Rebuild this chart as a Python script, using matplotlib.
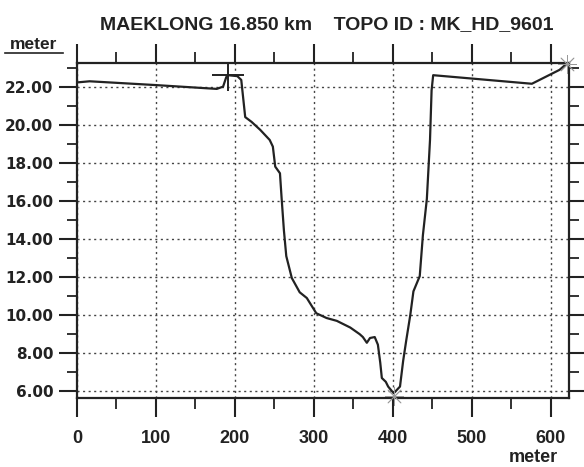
import matplotlib
matplotlib.use("Agg")
import matplotlib.pyplot as plt
from matplotlib.ticker import MultipleLocator, FormatStrFormatter
from matplotlib.lines import Line2D

plt.rcParams["font.family"] = ["Liberation Sans", "DejaVu Sans"]
plt.rcParams["font.weight"] = "bold"

# ---- cross-section profile (distance m, elevation m) ----
dist = [0, 16, 100, 177, 185, 189, 191, 203, 208, 213, 221, 232, 244, 248,
        251, 257, 259, 262, 265, 272, 282, 291, 303, 316, 329, 346, 358, 362,
        367, 371, 377, 381, 384, 386, 391, 394, 401, 409, 413, 417, 422, 426,
        432, 434, 438, 443, 447, 449, 451, 576, 611, 620]
elev = [22.22, 22.28, 22.08, 21.88, 22.0, 22.5, 22.6, 22.55, 22.35, 20.4,
        20.15, 19.73, 19.2, 18.85, 17.8, 17.45, 16.2, 14.45, 13.1, 11.95,
        11.2, 10.9, 10.1, 9.85, 9.7, 9.35, 9.0, 8.85, 8.55, 8.8, 8.85, 8.45,
        7.5, 6.7, 6.5, 6.25, 5.9, 6.25, 7.6, 8.7, 10.0, 11.25, 11.85, 12.05,
        14.2, 16.1, 19.2, 21.8, 22.6, 22.15, 22.88, 23.2]

# bank / thalweg markers
bank_x = [191]
bank_y = [22.6]
star_x = [401, 620]
star_y = [5.75, 23.2]

title = "MAEKLONG 16.850 km    TOPO ID : MK_HD_9601"

fig = plt.figure(figsize=(5.84, 4.67), dpi=100)
ax = fig.add_axes([77/584, 1-398/467, (569-77)/584, (398-63)/467])

ax.plot(dist, elev, color="#222222", lw=1.6, zorder=3)
ax.scatter(bank_x, bank_y, marker="+", s=520, color="#222222", lw=1.4, zorder=4)
ax.scatter(star_x, star_y, marker=(8, 2, 0), s=170, color="#999999", lw=0.6,
           zorder=4, clip_on=False)

ax.set_xlim(0, 623)
ax.set_ylim(5.65, 23.24)

ax.xaxis.set_major_locator(MultipleLocator(100))
ax.xaxis.set_minor_locator(MultipleLocator(50))
ax.yaxis.set_major_locator(MultipleLocator(2))
ax.yaxis.set_minor_locator(MultipleLocator(1))
ax.yaxis.set_major_formatter(FormatStrFormatter("%.2f"))

ax.grid(True, which="major", ls=(0, (1.5, 2.5)), color="#444444", lw=1.0)
for s in ax.spines.values():
    s.set_linewidth(1.6)
    s.set_color("#222222")

ax.tick_params(axis="both", which="both", direction="out", color="#222222",
               top=True, right=True, labeltop=False, labelright=False)
ax.tick_params(axis="x", which="major", length=14, width=1.5, pad=9,
               labelsize=13)
ax.tick_params(axis="x", which="minor", length=8, width=1.3)
ax.tick_params(axis="y", which="major", length=13, width=1.5, pad=4)
ax.tick_params(axis="y", which="minor", length=7, width=1.3)
for lab in ax.get_yticklabels():
    lab.set_family("DejaVu Sans")
    lab.set_fontsize(11)
    lab.set_color("#222222")
for lab in ax.get_xticklabels():
    lab.set_color("#222222")

fig.text(327/584, 1-29/467, title, ha="center", va="baseline", fontsize=14,
         fontweight="bold", color="#222222")
fig.text(34/584, 1-49/467, "meter", ha="center", va="baseline", fontsize=12.5,
         fontweight="bold", color="#222222")
fig.add_artist(Line2D([5/584, 63/584], [1-53/467, 1-53/467], lw=1.2,
                      color="#222222"))
fig.text(533/584, 1-462/467, "meter", ha="center", va="baseline",
         fontsize=13, fontweight="bold", color="#222222")

fig.savefig("out.png", dpi=100, facecolor="white")
